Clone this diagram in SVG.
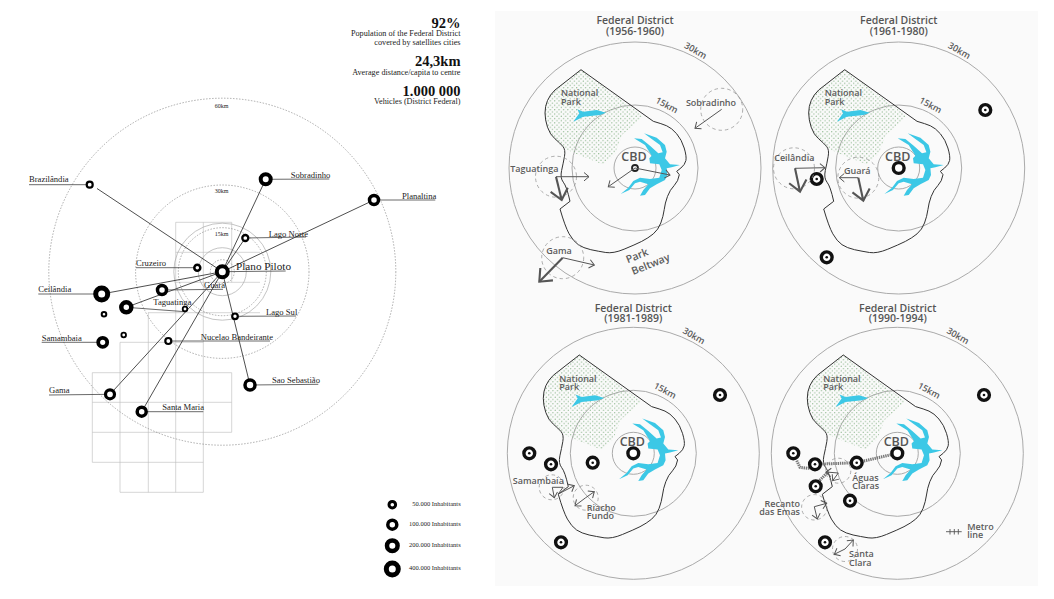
<svg xmlns="http://www.w3.org/2000/svg" width="1054" height="599" viewBox="0 0 1054 599">
<style>
text{font-family:"Liberation Serif","Times New Roman",serif;fill:#222}
.lb{font-size:8.6px}
.km{font-size:6px;text-anchor:middle}
.big{font-size:14.5px;font-weight:bold;text-anchor:end;fill:#111}
.sm{font-size:8.2px;text-anchor:end}
.lg{font-size:6.5px;text-anchor:end}
.ring{fill:#fff;stroke:#000}
.grid{stroke:#bbb;stroke-width:.6;fill:none}
.dash{fill:none;stroke:#777;stroke-width:.6;stroke-dasharray:1.5 1.5}
.solid{fill:none;stroke:#aaa;stroke-width:.7}
.conn{stroke:#222;stroke-width:.8;fill:none}
.ul{stroke:#444;stroke-width:.8;fill:none}
.op{font-family:"Open Sans","DejaVu Sans",sans-serif;fill:#5c5c5c;font-size:9px;font-weight:600}
.ti{font-family:"Open Sans","DejaVu Sans",sans-serif;fill:#555;font-size:10.5px;font-weight:600;text-anchor:middle}
.cbd{font-family:"Open Sans","DejaVu Sans",sans-serif;fill:#555;font-size:12.5px;font-weight:600;text-anchor:middle}
.pc{fill:none;stroke:#aaa;stroke-width:1}
.dc{fill:none;stroke:#999;stroke-width:.8;stroke-dasharray:3.5 3}
.thin{fill:none;stroke:#555;stroke-width:1;marker-end:url(#ah)}
.thick{fill:none;stroke:#555;stroke-width:2.1;marker-end:url(#ah)}
.tg{fill:#fff;stroke:#111;stroke-width:3.4}
.dot{fill:#111}
.metro{fill:none;stroke:#777;stroke-width:3;stroke-dasharray:1.4 .8}
</style>
<defs>
<marker id="ah" viewBox="-6 -5 8 10" refX="0" refY="0" markerWidth="8" markerHeight="10" orient="auto" markerUnits="strokeWidth"><path d="M-5,-4.2L0,0L-5,4.2" fill="none" stroke="#555" stroke-width="1"/></marker>
<pattern id="dots" width="4.4" height="4.4" patternUnits="userSpaceOnUse"><circle cx="1.1" cy="1.1" r=".6" fill="#7fae7f"/><circle cx="3.3" cy="3.3" r=".6" fill="#7fae7f"/></pattern>
<g id="base">
<circle class="pc" r="126"/><circle class="pc" r="63"/><circle class="pc" r="21"/>
<path fill="url(#dots)" d="M-54,-98.3L8.3,-51.7L-13,-33L-20,-14L-32,-3.5L-56.7,-13.3L-72,-20L-85,-33.3L-90,-48.3L-90,-61.7L-85,-73.3Z"/>
<path fill="#3cc8e6" d="M9,-34.7L21.7,-30.3L30,-23L31.7,-16.3L30,-9.7L35,-3.7L45,-3L36.7,-.7L31.7,.3L32.3,7L30,12L21.7,16.3L15,20.3L10,27L5,27.7L8.3,22L13.3,16.3L5,13.7L0,15.3L-5.7,22L-14.3,26L-6.7,19.7L-1.7,13L5,9.7L15,11L24.3,9.7L26.7,2L24.3,-3.7L15,-4.7L14.3,-9.7L16.7,-12.3L10,-23L-1,-29.7L6.7,-29L15,-22.3L23.3,-14.7L27.7,-15.7L25,-23L16.7,-29Z"/>
<path fill="#3cc8e6" d="M-61.7,-46.3L-55.7,-54.7L-57.7,-58.7L-51.7,-56.3L-38.3,-58L-29,-55.3L-35,-53L-51.7,-51.3Z"/>
<path fill="none" stroke="#333" stroke-width="1" stroke-linejoin="round" d="M-54,-98.3L18.3,-46.7Q26.7,-44.3 31.7,-42.2Q36.7,-40 41.7,-34.2Q46.7,-28.3 49.2,-20Q51.7,-11.7 50.9,-7.5Q50,-3.3 45.9,0L41.7,3.3L44.3,6.7Q43.3,13.3 39.2,17.5Q35,21.7 32.5,28.4Q30,35 29.2,41.7Q28.3,48.3 25.8,55Q23.3,61.7 18.3,65.9Q13.3,70 6.7,73.4Q0,76.7 -10.9,81.2Q-21.7,85.7 -29.2,84.5Q-36.7,83.3 -44.2,81.7Q-51.7,80 -56.7,76.7Q-61.7,73.3 -65.9,65.8Q-70,58.3 -75,41L-65,33.3Q-68.3,18.3 -71.7,14.2Q-75,10 -73.4,2.5Q-71.7,-5 -70.5,-11.7Q-69.3,-18.3 -72.2,-21.7Q-75,-25 -80,-29.2Q-85,-33.3 -87.5,-40.8Q-90,-48.3 -90,-55Q-90,-61.7 -87.5,-67.5Q-85,-73.3 -80,-78Z"/>
</g>
<g id="tgt"><circle class="tg" r="5.4"/><circle class="dot" r="1.3"/></g>
</defs>
<rect x="495" y="11" width="543" height="575" fill="#fafafa"/>

<g id="rings-grid">
<path class="grid" d="M175.7,222.3H231.7M175.7,252.3H260M175.7,282.3H260M148,312.7H260M120,342.3H203.3M92.3,372.7H231.7M92.3,402.3H231.7M92.3,432.3H231.7M92.3,462.3H203.3M120,492.3H203.3M92.3,372.7V462.3M120,342.3V492.3M148.3,312.7V492.3M175.7,222.3V492.3M203.3,222.3V492.3M231.7,222.3V282.3M231.7,372.7V432.3"/>
<circle class="dash" cx="222.3" cy="271.7" r="173.5"/>
<circle class="dash" cx="222.3" cy="271.7" r="86.7"/>
<circle class="solid" cx="222.3" cy="271.7" r="48.5"/>
<circle class="dash" cx="222.3" cy="271.7" r="44"/>
<circle class="solid" cx="222.3" cy="271.7" r="24"/>
<circle class="dash" cx="222.3" cy="271.7" r="12"/>
</g>
<g id="km-labels"><text class="km" x="221.7" y="107.7">60km</text><text class="km" x="221.7" y="193">30km</text><text class="km" x="221.7" y="236.3">15km</text></g>

<g id="connectors">
<path class="conn" d="M222.3,271.7L97,188.5M222.3,271.7L265.7,179.3M222.3,271.7L374,200M222.3,271.7L245.3,238M222.3,271.7L101.7,294M222.3,271.7L126.3,307.3M222.3,271.7L110,394.3M222.3,271.7L141.7,411.7M222.3,271.7L250,385"/>
<path class="ul" d="M29,184.7H89.7M265.7,179.3L329.3,179M374,200H435.3M245.3,238L306,237M222.3,271.7L285.7,271M136,267.7H197.3M162,290L223,289.3M38.3,294H101.7M126.3,307.3L185,311.7M235,316.3L296,316M41.7,342.3H102.7M168.3,341H270M250,385L318.3,384.3M49,395L110,394.3M141.7,411.7H203.3"/>
</g>

<g id="plano-piloto"><circle class="ring" cx="222.3" cy="271.7" r="5.5" stroke-width="4"/><text x="236" y="270" font-size="11.2">Plano Piloto</text></g>
<g id="brazilandia"><circle class="ring" cx="89.7" cy="184.7" r="3" stroke-width="2.2"/><text class="lb" x="29" y="182.3">Brazilândia</text></g>
<g id="sobradinho"><circle class="ring" cx="265.7" cy="179.3" r="5" stroke-width="4"/><text class="lb" x="290.7" y="178">Sobradinho</text></g>
<g id="planaltina"><circle class="ring" cx="374" cy="200" r="4.5" stroke-width="3.5"/><text class="lb" x="402" y="198.7">Planaltina</text></g>
<g id="lago-norte"><circle class="ring" cx="245.3" cy="238" r="3" stroke-width="2.3"/><text class="lb" x="268.7" y="236.7">Lago Norte</text></g>
<g id="cruzeiro"><circle class="ring" cx="197.3" cy="267.7" r="3" stroke-width="2.5"/><text class="lb" x="136" y="266.3">Cruzeiro</text></g>
<g id="guara"><circle class="ring" cx="162" cy="290" r="4.5" stroke-width="3.5"/><text class="lb" x="204" y="288">Guará</text></g>
<g id="ceilandia"><circle class="ring" cx="101.7" cy="294" r="6" stroke-width="5"/><text class="lb" x="38.3" y="292">Ceilândia</text></g>
<g id="taguatinga"><circle class="ring" cx="126.3" cy="307.3" r="5" stroke-width="4.5"/><text class="lb" x="153.3" y="305.3">Taguatinga</text></g>
<g id="node-a"><circle class="ring" cx="185" cy="309" r="2.3" stroke-width="1.8"/></g>
<g id="lago-sul"><circle class="ring" cx="235" cy="316.3" r="2.8" stroke-width="2.2"/><text class="lb" x="266" y="315">Lago Sul</text></g>
<g id="node-b"><circle class="ring" cx="104" cy="314.3" r="2.3" stroke-width="2"/></g>
<g id="node-c"><circle class="ring" cx="123.7" cy="335" r="2.3" stroke-width="1.8"/></g>
<g id="samambaia"><circle class="ring" cx="102.7" cy="342.3" r="4.5" stroke-width="3.8"/><text class="lb" x="41.7" y="340.7">Samambaia</text></g>
<g id="nucleao"><circle class="ring" cx="168.3" cy="341" r="3" stroke-width="2.2"/><text class="lb" x="200.7" y="339.7">Nucelao Bandeirante</text></g>
<g id="sao-sebastiao"><circle class="ring" cx="250" cy="385" r="5" stroke-width="3.5"/><text class="lb" x="272" y="383">Sao Sebastião</text></g>
<g id="gama"><circle class="ring" cx="110" cy="394.3" r="4.5" stroke-width="3.2"/><text class="lb" x="49" y="393">Gama</text></g>
<g id="santa-maria"><circle class="ring" cx="141.7" cy="411.7" r="4.5" stroke-width="3.5"/><text class="lb" x="162.3" y="410">Santa Maria</text></g>

<g id="stats">
<text class="big" x="460.5" y="28">92%</text>
<text class="sm" x="460.5" y="36">Population of the Federal District<tspan x="460.5" dy="8.7">covered by satellites cities</tspan></text>
<text class="big" x="460.5" y="66">24,3km</text>
<text class="sm" x="460.5" y="74.7">Average distance/capita to centre</text>
<text class="big" x="460.5" y="96">1.000 000</text>
<text class="sm" x="460.5" y="104">Vehicles (District Federal)</text>
</g>
<g id="legend">
<circle class="ring" cx="392.3" cy="504.7" r="3.3" stroke-width="3"/><text class="lg" x="460.7" y="505.7">50.000 Inhabitants</text>
<circle class="ring" cx="392.3" cy="524.7" r="4.5" stroke-width="3.5"/><text class="lg" x="460.7" y="525.7">100.000 Inhabitants</text>
<circle class="ring" cx="392.3" cy="545.7" r="5.3" stroke-width="4.5"/><text class="lg" x="460.7" y="546.7">200.000 Inhabitants</text>
<circle class="ring" cx="392.3" cy="569" r="6" stroke-width="5"/><text class="lg" x="460.7" y="570">400.000 Inhabitants</text>
</g>

<g id="panel-1956">
<use href="#base" x="635" y="168"/>
<text class="ti" x="635" y="23.5">Federal District<tspan x="635" dy="11">(1956-1960)</tspan></text>
<text class="op" transform="rotate(30 694 53.3)" x="694" y="53.3" text-anchor="middle">30km</text>
<text class="op" transform="rotate(28 665.3 108)" x="665.3" y="108" text-anchor="middle">15km</text>
<text class="op" x="561" y="96.3">National<tspan x="561" dy="8.7">Park</tspan></text>
<text class="cbd" x="634" y="161">CBD</text>
<circle cx="635" cy="168" r="3" fill="none" stroke="#222" stroke-width="1.8"/>
<circle class="dc" cx="721.7" cy="109.3" r="21"/><circle class="dc" cx="556" cy="176.7" r="20.5"/><circle class="dc" cx="562.7" cy="257.7" r="21"/>
<text class="op" x="711" y="105.7" text-anchor="middle">Sobradinho</text>
<text class="op" x="534.3" y="171.7" text-anchor="middle">Taguatinga</text>
<text class="op" x="559" y="254" text-anchor="middle">Gama</text>
<text class="op" x="627.7" y="263.3" style="font-size:10.5px" transform="rotate(-22 627.7 263.3)">Park</text>
<text class="op" x="633.3" y="275" style="font-size:10.5px" transform="rotate(-22 633.3 275)">Beltway</text>
<path class="thin" d="M721.7,109.3L695,128.3"/>
<path class="thin" d="M556,176.7H589"/><path class="thick" d="M556,176.7L561.7,200"/>
<path class="thin" d="M635,168L608.3,186.7"/><path class="thin" d="M635,168L670,175"/>
<path class="thin" d="M562.7,257.7L594.3,265"/><path class="thick" d="M562.7,257.7L539.3,281.7"/>
</g>

<g id="panel-1961">
<use href="#base" x="898.7" y="168"/>
<text class="ti" x="898.7" y="23.5">Federal District<tspan x="898.7" dy="11">(1961-1980)</tspan></text>
<text class="op" transform="rotate(30 957.7 53.3)" x="957.7" y="53.3" text-anchor="middle">30km</text>
<text class="op" transform="rotate(28 929 108)" x="929" y="108" text-anchor="middle">15km</text>
<text class="op" x="824.7" y="96.3">National<tspan x="824.7" dy="8.7">Park</tspan></text>
<text class="cbd" x="897.7" y="161">CBD</text>
<circle class="tg" cx="898.7" cy="168" r="5.4"/>
<use href="#tgt" x="985.3" y="110"/><use href="#tgt" x="816.7" y="179"/><use href="#tgt" x="826.7" y="257.3"/>
<circle class="dc" cx="794" cy="168.3" r="20.5"/><circle class="dc" cx="858.3" cy="177.7" r="20.5"/>
<text class="op" x="794.3" y="161.3" text-anchor="middle">Ceilândia</text>
<text class="op" x="857.3" y="174" text-anchor="middle">Guará</text>
<path class="thin" d="M795,168.3L825,167.7"/><path class="thick" d="M795,168.3L800,191.7"/>
<path class="thin" d="M858.3,177.7H839.3"/><path class="thick" d="M858.3,177.7L863.3,200.7"/>
</g>

<g id="panel-1981">
<use href="#base" x="633.3" y="453.3"/>
<text class="ti" x="633.3" y="311.7">Federal District<tspan x="633.3" dy="10.6">(1981-1989)</tspan></text>
<text class="op" transform="rotate(30 692.3 338.6)" x="692.3" y="338.6" text-anchor="middle">30km</text>
<text class="op" transform="rotate(28 663.6 393.3)" x="663.6" y="393.3" text-anchor="middle">15km</text>
<text class="op" x="559.3" y="381.6">National<tspan x="559.3" dy="8.7">Park</tspan></text>
<text class="cbd" x="632.3" y="446.3">CBD</text>
<circle class="tg" cx="633.3" cy="453.3" r="5.4"/>
<use href="#tgt" x="720" y="395"/><use href="#tgt" x="529.3" y="453.3"/><use href="#tgt" x="551" y="464.3"/><use href="#tgt" x="592.7" y="462.7"/><use href="#tgt" x="561" y="542.3"/>
<circle class="dc" cx="551.7" cy="487.3" r="12.5"/><circle class="dc" cx="585.7" cy="497.7" r="12.5"/>
<text class="op" x="538.3" y="484" text-anchor="middle">Samambaia</text>
<text class="op" x="586.7" y="510.7">Riacho<tspan x="586.7" dy="8.3">Fundo</tspan></text>
<path class="thin" d="M552.3,487.3L554.3,497.7"/><path class="thin" d="M552.3,487.3H563L558.3,494L574.3,485.7"/>
<path class="thin" d="M585.7,497.7L594.3,491.7"/><path class="thin" d="M585.7,497.7L575,505.7"/>
</g>

<g id="panel-1990">
<use href="#base" x="897.3" y="453.3"/>
<text class="ti" x="897.7" y="311.7">Federal District<tspan x="897.7" dy="10.6">(1990-1994)</tspan></text>
<text class="op" transform="rotate(30 956.3 338.6)" x="956.3" y="338.6" text-anchor="middle">30km</text>
<text class="op" transform="rotate(28 927.6 393.3)" x="927.6" y="393.3" text-anchor="middle">15km</text>
<text class="op" x="823.3" y="381.6">National<tspan x="823.3" dy="8.7">Park</tspan></text>
<text class="cbd" x="896.3" y="446.3">CBD</text>
<path class="metro" d="M796.7,460.7L800,467.3L808.3,468.3L815,464.3L856.7,462.7L897.3,453.3M815,485L828.3,471.7"/>
<circle class="tg" cx="897.3" cy="453.3" r="5.4"/>
<use href="#tgt" x="984" y="395"/><use href="#tgt" x="793.3" y="453.3"/><use href="#tgt" x="815" y="464.3"/><use href="#tgt" x="856.7" y="462.7"/><use href="#tgt" x="815.7" y="486.3"/><use href="#tgt" x="850" y="500.7"/><use href="#tgt" x="825" y="542.3"/>
<circle class="dc" cx="838.3" cy="470.7" r="12.5"/><circle class="dc" cx="814.3" cy="507.3" r="12.7"/><circle class="dc" cx="845" cy="549" r="12.5"/>
<text class="op" x="852.3" y="480.7">Águas<tspan x="852.3" dy="8.3">Claras</tspan></text>
<text class="op" x="800" y="506.7" text-anchor="end">Recanto<tspan x="800" dy="8.3">das Emas</tspan></text>
<text class="op" x="849" y="557.3">Santa<tspan x="849" dy="8.4">Clara</tspan></text>
<text class="op" x="967.3" y="530">Metro<tspan x="967.3" dy="8.3">line</tspan></text>
<path d="M946,531.7H961.7M950,529V534.5M954.3,529V534.5M958.3,529V534.5" fill="none" stroke="#555" stroke-width=".9"/>
<path class="thin" d="M838.3,473L832.7,480.7"/><path class="thin" d="M838.3,473L826,472"/>
<path class="thin" d="M814.3,506.7L826.7,503.3"/><path class="thin" d="M814.3,506.7L817.3,519"/>
<path class="thin" d="M845,549L853.3,540"/><path class="thin" d="M845,549L834.3,554.3"/>
</g>
</svg>
